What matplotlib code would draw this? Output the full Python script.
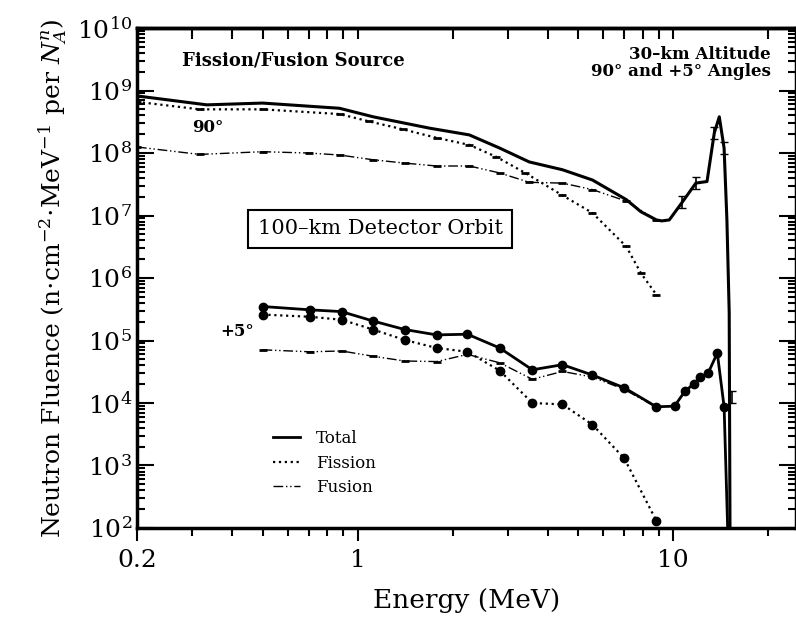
import matplotlib
matplotlib.use('Agg')
import matplotlib.pyplot as plt
from matplotlib.lines import Line2D
from matplotlib.ticker import LogLocator, NullFormatter, FixedLocator, FixedFormatter

plt.rcParams['font.family'] = ['DejaVu Serif']
plt.rcParams['mathtext.fontset'] = 'dejavuserif'

# 90 degree curves
e_tot90 = [0.2, 0.333, 0.5, 0.877, 1.12, 1.69, 2.26, 2.82, 3.5, 4.46, 5.55, 7.1, 7.9, 8.85, 9.2, 9.72, 10.7, 11.8, 12.8, 13.5, 14.0, 14.5, 14.8, 15.05, 15.15]
f_tot90 = [8.2e8, 5.9e8, 6.3e8, 5.2e8, 3.8e8, 2.5e8, 1.95e8, 1.2e8, 7.2e7, 5.4e7, 3.7e7, 1.8e7, 1.15e7, 8.5e6, 8.2e6, 8.5e6, 1.65e7, 3.3e7, 3.5e7, 2.1e8, 3.8e8, 1.2e8, 8.5e6, 2.8e5, 30]
e_fis90 = [0.2, 0.316, 0.5, 0.877, 1.09, 1.39, 1.78, 2.26, 2.75, 3.4, 4.46, 5.55, 7.1, 7.9, 8.85]
f_fis90 = [6.6e8, 5.0e8, 5.0e8, 4.2e8, 3.2e8, 2.4e8, 1.75e8, 1.35e8, 8.7e7, 4.8e7, 2.1e7, 1.1e7, 3.2e6, 1.2e6, 5.4e5]
e_fus90 = [0.2, 0.316, 0.5, 0.7, 0.877, 1.12, 1.41, 1.78, 2.26, 2.82, 3.5, 4.46, 5.55, 7.1, 8.85]
f_fus90 = [1.25e8, 9.5e7, 1.05e8, 1.0e8, 9.3e7, 7.8e7, 6.9e7, 6.2e7, 6.2e7, 4.8e7, 3.4e7, 3.3e7, 2.6e7, 1.7e7, 8.5e6]

# +5 degree curves
e_tot5 = [0.5, 0.705, 0.89, 1.12, 1.41, 1.78, 2.23, 2.82, 3.58, 4.46, 5.55, 7.0, 8.85, 10.1, 10.9, 11.6, 12.2, 12.9, 13.8, 14.5, 14.9]
f_tot5 = [3.5e5, 3.1e5, 2.9e5, 2.05e5, 1.5e5, 1.23e5, 1.26e5, 7.6e4, 3.4e4, 4.1e4, 2.8e4, 1.75e4, 8.7e3, 8.9e3, 1.55e4, 2.0e4, 2.6e4, 3.0e4, 6.3e4, 8.7e3, 80]
e_fis5 = [0.5, 0.705, 0.89, 1.12, 1.41, 1.78, 2.23, 2.82, 3.58, 4.46, 5.55, 7.0, 8.85]
f_fis5 = [2.6e5, 2.4e5, 2.15e5, 1.5e5, 1.02e5, 7.6e4, 6.6e4, 3.3e4, 1.0e4, 9.5e3, 4.5e3, 1.3e3, 1.3e2]
e_fus5 = [0.5, 0.705, 0.89, 1.12, 1.41, 1.78, 2.23, 2.82, 3.58, 4.46, 5.55, 7.0, 8.85]
f_fus5 = [7.1e4, 6.6e4, 6.8e4, 5.6e4, 4.7e4, 4.6e4, 6.0e4, 4.4e4, 2.4e4, 3.2e4, 2.6e4, 1.65e4, 8.5e3]

# error-bar symbols on the 90 degree total near the 14 MeV peak
e_err = [10.7, 11.8, 13.5, 14.5, 15.4]
f_err = [1.65e7, 3.3e7, 2.1e8, 1.2e8, 1.25e4]

fig = plt.figure(figsize=(7.96, 6.23), dpi=100)
ax = fig.add_axes([0.172, 0.1525, 0.828, 0.8025])

dashdot = (0, (7, 2, 1, 2, 1, 2))
ax.plot(e_tot90, f_tot90, color='black', lw=2.2)
ax.plot(e_fis90, f_fis90, color='black', lw=1.6, ls=':', marker='_', ms=6, mew=2)
ax.plot(e_fus90, f_fus90, color='black', lw=1.0, ls=dashdot, marker='_', ms=6, mew=2)

ax.plot(e_tot5, f_tot5, color='black', lw=2.0, marker='o', ms=6)
ax.plot(e_fis5, f_fis5, color='black', lw=1.6, ls=':', marker='o', ms=6)
ax.plot(e_fus5, f_fus5, color='black', lw=1.0, ls=dashdot, marker='_', ms=6, mew=2)

ax.errorbar(e_err, f_err, yerr=[[v * 0.2 for v in f_err], [v * 0.25 for v in f_err]],
            fmt='none', ecolor='black', elinewidth=1.2, capsize=3)

ax.set_xscale('log')
ax.set_yscale('log')
ax.set_xlim(0.2, 24.5)
ax.set_ylim(1e2, 1e10)

ax.xaxis.set_major_locator(FixedLocator([0.2, 1, 10]))
ax.xaxis.set_major_formatter(FixedFormatter(['0.2', '1', '10']))
ax.xaxis.set_minor_locator(LogLocator(base=10, subs=range(2, 10), numticks=20))
ax.xaxis.set_minor_formatter(NullFormatter())
ax.yaxis.set_major_locator(LogLocator(base=10, numticks=20))
ax.yaxis.set_minor_locator(LogLocator(base=10, subs=range(2, 10), numticks=20))
ax.yaxis.set_minor_formatter(NullFormatter())

ax.tick_params(axis='x', which='both', direction='out', labelsize=18, width=1.5, pad=6)
ax.tick_params(axis='x', which='major', length=9)
ax.tick_params(axis='x', which='minor', length=6)
ax.tick_params(axis='y', which='both', direction='in', right=True, labelsize=18, width=1.5)
ax.tick_params(axis='y', which='major', length=12)
ax.tick_params(axis='y', which='minor', length=6)

top = ax.secondary_xaxis('top')
top.set_xscale('log')
top.xaxis.set_major_locator(FixedLocator([1, 10]))
top.xaxis.set_minor_locator(LogLocator(base=10, subs=range(2, 10), numticks=20))
top.tick_params(which='both', direction='in', labeltop=False, width=1.5, length=8)
top.xaxis.set_minor_formatter(NullFormatter())
top.spines['top'].set_linewidth(2.5)

for s in ax.spines.values():
    s.set_linewidth(2.5)

ax.set_xlabel('Energy (MeV)', fontsize=19, labelpad=12)
ax.set_ylabel(r'Neutron Fluence (n$\cdot$cm$^{-2}$$\cdot$MeV$^{-1}$ per $N_A^n$)', fontsize=18, labelpad=6)

ax.text(0.068, 0.935, 'Fission/Fusion Source', transform=ax.transAxes, fontsize=13, fontweight='bold', va='center')
ax.text(0.962, 0.93, '30\u2013km Altitude\n90\u00b0 and +5\u00b0 Angles', transform=ax.transAxes,
        fontsize=12, fontweight='bold', ha='right', va='center', linespacing=1.0)
ax.text(208 / 796, 1 - 128 / 623, '90\u00b0', fontsize=12, fontweight='bold', transform=fig.transFigure, va='center', ha='center')
ax.text(237 / 796, 1 - 331 / 623, '+5\u00b0', fontsize=12, fontweight='bold', transform=fig.transFigure, va='center', ha='center')
ax.text(380 / 796, 1 - 229 / 623, '100\u2013km Detector Orbit', fontsize=15, transform=fig.transFigure,
        va='center', ha='center',
        bbox=dict(boxstyle='square,pad=0.45', facecolor='white', edgecolor='black', lw=1.5))

handles = [Line2D([], [], color='black', lw=2.0),
           Line2D([], [], color='black', lw=1.6, ls=':'),
           Line2D([], [], color='black', lw=1.0, ls=dashdot)]
fig.legend(handles, ['Total', 'Fission', 'Fusion'], loc='upper left',
           bbox_to_anchor=(258 / 796, 1 - 415 / 623), frameon=False, fontsize=12,
           handlelength=1.6, handletextpad=1.0, labelspacing=0.45)

fig.savefig('out.png', dpi=100)
